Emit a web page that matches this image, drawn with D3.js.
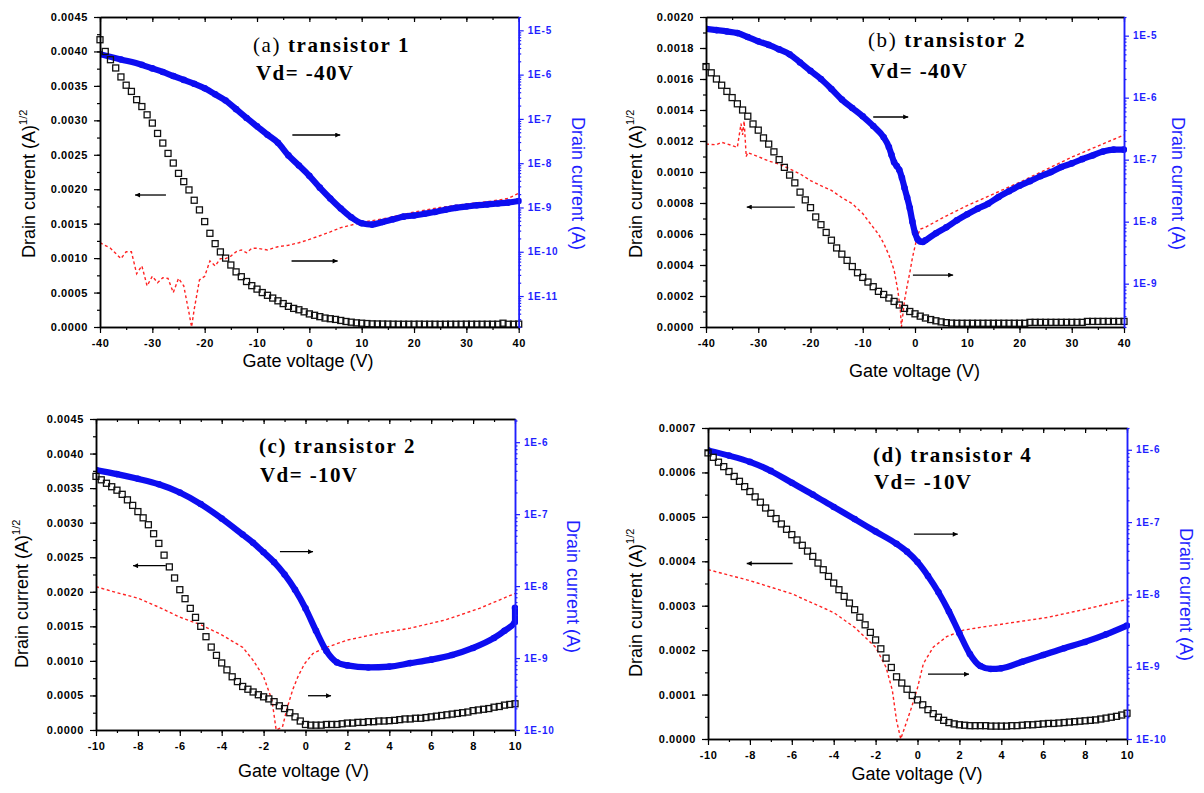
<!DOCTYPE html>
<html><head><meta charset="utf-8">
<script src="https://cdn.jsdelivr.net/npm/d3@7"></script>
<style>body{margin:0;background:#fff}svg{display:block}</style>
</head><body><svg id="c" width="1204" height="793"></svg>
<script>
// ---------- DATA ----------
// Gate-voltage sweeps for the square (sqrt Id) markers
const vgWide = d3.range(-40, 40.001, 1);      // panels a, b
const vgNarrow = d3.range(-10, 10.001, 0.25); // panels c, d

// sqrt(Id) (A^1/2), left axis, black squares
const sqrtIdA = [0.00417,0.00400,0.00388,0.00376,0.00363,0.00351,0.00342,0.00330,0.00320,0.00308,
 0.00296,0.00281,0.00267,0.00252,0.00238,0.00223,0.00211,0.00199,0.00184,0.00170,
 0.00153,0.00136,0.00121,0.00109,0.00100,0.00090,0.00080,0.00073,0.00066,0.00060,
 0.00055,0.00050,0.00046,0.00042,0.00038,0.00034,0.00030,0.00027,0.00025,0.00022,
 0.00019,0.00017,0.00015,0.00013,0.00012,0.00011,0.000095,0.00008,0.00007,0.00006,0.000055,0.00005,0.000045,
 0.000044,0.000043,0.000042,0.000041,0.00004,0.00004,0.00004,0.00004,0.000041,0.00004,
 0.00004,0.00004,0.000039,0.00004,0.00004,0.00004,0.00004,0.000041,0.00004,0.00004,
 0.00004,0.00004,0.00004,0.00004,0.000055,0.00004,0.00004,0.000042];
const sqrtIdB = [0.00168,0.00164,0.00160,0.00156,0.00152,0.00148,0.00144,0.00140,0.00136,0.00131,
 0.00127,0.00122,0.00118,0.00113,0.00108,0.00103,0.00098,0.00093,0.00087,0.00082,
 0.00077,0.00071,0.00066,0.00061,0.00056,0.00051,0.00047,0.00043,0.00039,0.00035,
 0.00032,0.00029,0.00026,0.00023,0.00021,0.000187,0.000165,0.000142,0.00012,0.0001,
 0.000085,0.00007,0.000058,0.000048,0.00004,0.000033,0.000028,0.000025,0.000024,0.000024,
 0.000024,0.000024,0.000024,0.000024,0.000024,0.000024,0.000024,0.000024,0.000024,0.000024,
 0.000024,0.000024,0.00003,0.00003,0.00003,0.00003,0.00003,0.00003,0.00003,0.00003,
 0.00003,0.00003,0.00003,0.000036,0.000036,0.000036,0.000036,0.000036,0.000036,0.000036,0.000036];
const sqrtIdC = [0.00367,0.00362,0.00357,0.00352,0.00347,0.00341,0.00333,0.00325,0.00316,0.00307,
 0.00297,0.00284,0.00270,0.00253,0.00236,0.00220,0.00203,0.00190,0.00176,0.00163,
 0.00150,0.00135,0.00120,0.00108,0.00097,0.00087,0.00077,0.00070,0.00063,0.00059,
 0.00055,0.00051,0.00048,0.00045,0.00041,0.00035,0.00031,0.00025,0.00019,0.00013,
 0.00008,0.00007,0.00007,0.00007,0.00008,0.00008,0.00008,0.00009,0.0001,0.0001,
 0.00011,0.00011,0.00012,0.00012,0.00013,0.00013,0.000135,0.00014,0.00015,0.00016,
 0.00016,0.00017,0.00017,0.00018,0.00019,0.0002,0.00021,0.00022,0.00023,0.00024,
 0.00025,0.00026,0.00028,0.00029,0.0003,0.00031,0.00033,0.00034,0.00036,0.00037,0.00038];
const sqrtIdD = [0.000644,0.000634,0.000623,0.000613,0.000602,0.000591,0.00058,0.000568,0.000557,0.000545,
 0.000533,0.00052,0.000508,0.000496,0.000484,0.000472,0.00046,0.000448,0.000436,0.000423,
 0.000411,0.000396,0.000381,0.000366,0.000351,0.000336,0.000321,0.000306,0.000291,0.000274,
 0.000257,0.00024,0.000223,0.000203,0.000182,0.000161,0.00014,0.000126,0.000112,0.000098,
 0.000088,0.000077,0.000066,0.000057,0.000049,0.000042,0.000037,0.000034,0.000032,0.000031,
 0.00003,0.00003,0.00003,0.00003,0.000029,0.000029,0.000029,0.000029,0.00003,0.00003,
 0.000031,0.000032,0.000032,0.000033,0.000034,0.000035,0.000035,0.000036,0.000037,0.000038,
 0.000039,0.00004,0.000041,0.000042,0.000043,0.000045,0.000047,0.000049,0.000051,0.000054,0.000058];

// Drain current (A), right log axis, blue markers: [Vg, Id]
const idLogA = [[-40,2.9e-6],[-36,2.2e-6],[-32,1.66e-6],[-30,1.38e-6],[-28,1.15e-6],[-26,9.3e-7],[-24,7.6e-7],
 [-22,6.2e-7],[-20,4.9e-7],[-18,3.6e-7],[-16,2.6e-7],[-14,1.66e-7],[-12,1.05e-7],[-10,6.8e-8],[-8,4.4e-8],
 [-6,2.9e-8],[-4,1.5e-8],[-2,8.9e-9],[0,5.2e-9],[2,2.8e-9],[4,1.6e-9],[6,9.5e-10],[8,6e-10],[10,4.4e-10],
 [12,4.1e-10],[14,4.7e-10],[16,5.4e-10],[18,6.2e-10],[20,6.6e-10],[22,7.2e-10],[24,7.9e-10],[26,8.9e-10],
 [28,9.8e-10],[30,1.05e-9],[32,1.12e-9],[34,1.17e-9],[36,1.23e-9],[38,1.29e-9],[40,1.4e-9]];
const idLogB = [[-40,1.29e-5],[-38,1.23e-5],[-36,1.17e-5],[-34,1.1e-5],[-32,9.5e-6],[-30,8.1e-6],[-28,7.1e-6],
 [-26,6e-6],[-24,5e-6],[-22,3.7e-6],[-20,2.7e-6],[-18,2e-6],[-16,1.38e-6],[-14,9.3e-7],[-12,6.8e-7],[-10,5e-7],
 [-8,3.5e-7],[-6,2.3e-7],[-5,1.6e-7],[-4.5,1.2e-7],[-4,9.1e-8],[-3.5,7.9e-8],[-3,6.8e-8],[-2.5,5.1e-8],
 [-2,3.5e-8],[-1.5,2.45e-8],[-1,1.66e-8],[-0.5,1e-8],[0,6.6e-9],[0.5,5.2e-9],[1,4.8e-9],[1.5,4.7e-9],
 [2,5e-9],[4,6.5e-9],[6,8.1e-9],[8,1.05e-8],[10,1.32e-8],[12,1.62e-8],[14,1.95e-8],[16,2.5e-8],[18,3.1e-8],
 [20,3.8e-8],[22,4.5e-8],[24,5.4e-8],[26,6.3e-8],[28,7.6e-8],[30,8.7e-8],[32,1.02e-7],[34,1.17e-7],
 [36,1.35e-7],[38,1.45e-7],[40,1.45e-7]];
const idLogC = [[-10,4.1e-7],[-9,3.6e-7],[-8,3.1e-7],[-7,2.6e-7],[-6,2e-7],[-5,1.38e-7],[-4,8.7e-8],[-3,5.2e-8],
 [-2.5,4e-8],[-2,2.95e-8],[-1.5,2.15e-8],[-1,1.45e-8],[-0.5,8.9e-9],[0,4.9e-9],[0.5,2.4e-9],[1,1.25e-9],[1.5,8.7e-10],
 [2,7.9e-10],[3,7.4e-10],[4,7.6e-10],[5,8.5e-10],[6,9.5e-10],[7,1.1e-9],[8,1.38e-9],[9,1.9e-9],[9.5,2.4e-9],
 [10,3.2e-9],[10,5e-9]];
const idLogD = [[-10,9.8e-7],[-9,8.3e-7],[-8,6.8e-7],[-7,5.1e-7],[-6,3.5e-7],[-5,2.4e-7],[-4,1.62e-7],[-3,1.1e-7],
 [-2,7.4e-8],[-1,5e-8],[-0.5,3.9e-8],[0,2.8e-8],[0.5,1.8e-8],[1,1.07e-8],[1.5,5.8e-9],[2,2.9e-9],[2.5,1.5e-9],[3,1.02e-9],
 [3.5,9.3e-10],[4,9.5e-10],[5,1.17e-9],[6,1.45e-9],[7,1.8e-9],[8,2.2e-9],[9,2.8e-9],[10,3.7e-9]];

// Red dashed current (A), right log axis: [Vg, I]
const redA = [[-40,1.6e-10],[-38,1.2e-10],[-36,7e-11],[-35,1.0e-10],[-34,1.0e-10],[-33,3.2e-11],[-32,4.8e-11],
 [-31,1.7e-11],[-30,2.8e-11],[-29,2e-11],[-28,2.6e-11],[-27,2.5e-11],[-26,1.2e-11],[-25,2.5e-11],[-24,1.7e-11],
 [-23,4.2e-12],[-22.5,2e-12],[-22,5e-12],[-21,2.3e-11],[-20,2.8e-11],[-19,6.2e-11],[-18,4.8e-11],[-17,7e-11],
 [-16,7e-11],[-15,8e-11],[-14,1.0e-10],[-13,1.1e-10],[-12,9.5e-11],[-11,1.2e-10],[-10,1.2e-10],[-8,1.1e-10],
 [-6,1.3e-10],[-4,1.4e-10],[-2,1.6e-10],[0,1.9e-10],[2,2.3e-10],[4,2.8e-10],[6,3.5e-10],[8,4e-10],[10,4.6e-10],
 [15,5.8e-10],[20,7.9e-10],[25,1.0e-9],[30,1.2e-9],[35,1.4e-9],[38,1.6e-9],[40,2.1e-9]];
const redB = [[-40,1.78e-7],[-38,1.74e-7],[-37,1.9e-7],[-36,1.8e-7],[-34,1.58e-7],[-33.3,3.8e-7],[-33,2.5e-7],
 [-32.7,4.2e-7],[-32.3,1.12e-7],[-32,1.3e-7],[-30,1.12e-7],[-28,9.5e-8],[-26,8.5e-8],[-24,7.1e-8],[-22,5.9e-8],
 [-20,4.6e-8],[-18,3.8e-8],[-16,3.2e-8],[-14,2.45e-8],[-12,1.95e-8],[-10,1.35e-8],[-8,8.1e-9],[-7,6.3e-9],
 [-6,4.5e-9],[-5,2.9e-9],[-4,1.66e-9],[-3.3,7.9e-10],[-2.8,3.8e-10],[-2.6,2e-10],[-2,5.4e-10],[-1.5,9.3e-10],
 [-1,1.5e-9],[-0.5,2.6e-9],[0,4e-9],[0.5,6e-9],[1,7.6e-9],[2,8.1e-9],[5,1.12e-8],[10,1.82e-8],[20,4.3e-8],
 [30,1.1e-7],[40,2.5e-7]];
const redC = [[-10,9.8e-9],[-9,8.1e-9],[-8,6.8e-9],[-7,5.1e-9],[-6,3.7e-9],[-5,2.9e-9],[-4,2.1e-9],[-3,1.41e-9],
 [-2.5,9.3e-10],[-2,5.5e-10],[-1.6,2.6e-10],[-1.4,1e-10],[-1.1,1.1e-10],[-0.86,2.1e-10],[-0.6,3.7e-10],
 [-0.35,5.6e-10],[-0.05,8.3e-10],[0.35,1.15e-9],[0.83,1.35e-9],[2,1.78e-9],[3.5,2.2e-9],[5,2.6e-9],
 [6.7,3.4e-9],[8.3,4.9e-9],[10,7.9e-9]];
const redD = [[-10,2.2e-8],[-8,1.55e-8],[-6,1.02e-8],[-4,5.6e-9],[-3,3.5e-9],[-2,1.86e-9],[-1.5,9.8e-10],
 [-1.2,4.7e-10],[-1,1.8e-10],[-0.8,1.0e-10],[-0.28,2.75e-10],[0,5.1e-10],[0.28,1.1e-9],[0.75,1.86e-9],
 [1.39,2.6e-9],[2.19,3.2e-9],[3,3.5e-9],[4.6,4.1e-9],[6.2,4.8e-9],[7.75,6e-9],[10,8.5e-9]];

// Tick values / labels
const xTicksWide = [-40,-30,-20,-10,0,10,20,30,40];
const xTicksNarrow = [-10,-8,-6,-4,-2,0,2,4,6,8,10];
const yTicks45 = [0,0.0005,0.0010,0.0015,0.0020,0.0025,0.0030,0.0035,0.0040,0.0045];
const yTicks20 = [0,0.0002,0.0004,0.0006,0.0008,0.0010,0.0012,0.0014,0.0016,0.0018,0.0020];
const yTicks07 = [0,0.0001,0.0002,0.0003,0.0004,0.0005,0.0006,0.0007];
const logTicksA = [1e-11,1e-10,1e-9,1e-8,1e-7,1e-6,1e-5];
const logTicksB = [1e-9,1e-8,1e-7,1e-6,1e-5];
const logTicksCD = [1e-10,1e-9,1e-8,1e-7,1e-6];

// Annotation arrows in data units: [x start, y (left axis), x end]
const arrowsA = [[-27.4,0.001916,-33.3],[-3.25,0.002787,5.9],[-3.4,0.000958,5.4]];
const arrowsB = [[-8.0,0.001355,-1.3],[-23,0.000774,-32.2],[-0.4,0.000335,7.3]];
const arrowsC = [[-6.67,0.002377,-8.23],[-1.22,0.00258,0.36],[0.12,0.000496,1.22]];
const arrowsD = [[-5.96,0.000395,-8.15],[-0.17,0.000461,1.92],[0.50,0.000146,2.46]];

// ---------- LAYOUT ----------
const panels = [
 {id:'a', box:[100,17,518.7,327], xDom:[-40,40], xT:xTicksWide, xMin:5, yMax:0.0045, yT:yTicks45, yMin:0.00025,
  logDom:[2e-12,2e-5], logT:logTicksA, vg:vgWide, sq:sqrtIdA, blue:idLogA, red:redA, arrows:arrowsA,
  tag:'(a)', tagBold:false, name:'transistor 1', vd:'Vd= -40V', tPos:[253,52], vPos:[256,80],
  labL:[35,258], labR:[571.5,117], labX:[308,366.7]},
 {id:'b', box:[706,17,1124,327], xDom:[-40,40], xT:xTicksWide, xMin:5, yMax:0.0020, yT:yTicks20, yMin:0.0001,
  logDom:[2e-10,2e-5], logT:logTicksB, vg:vgWide, sq:sqrtIdB, blue:idLogB, red:redB, arrows:arrowsB,
  tag:'(b)', tagBold:false, name:'transistor 2', vd:'Vd= -40V', tPos:[868,47], vPos:[870,78],
  labL:[642,258], labR:[1171.5,117], labX:[914.5,376.7]},
 {id:'c', box:[96,419,515,730], xDom:[-10,10], xT:xTicksNarrow, xMin:1, yMax:0.0045, yT:yTicks45, yMin:0.00025,
  logDom:[1e-10,2.1e-6], logT:logTicksCD, vg:vgNarrow, sq:sqrtIdC, blue:idLogC, red:redC, arrows:arrowsC,
  tag:'(c)', tagBold:true, name:'transistor 2', vd:'Vd= -10V', tPos:[259,453], vPos:[260,482],
  labL:[28,668], labR:[566.5,520], labX:[303.5,777]},
 {id:'d', box:[708,428,1127,739], xDom:[-10,10], xT:xTicksNarrow, xMin:1, yMax:0.0007, yT:yTicks07, yMin:0.00005,
  logDom:[1e-10,2e-6], logT:logTicksCD, vg:vgNarrow, sq:sqrtIdD, blue:idLogD, red:redD, arrows:arrowsD,
  tag:'(d)', tagBold:true, name:'transistor 4', vd:'Vd= -10V', tPos:[873,462], vPos:[874,489],
  labL:[642,677], labR:[1180,528], labX:[917,780]}
];

const BLUE = '#0d0df0', AXBLUE = '#1f1fff', RED = '#ff2222';
const SANS = "Arial, 'Liberation Sans', Helvetica, sans-serif";
const SERIF = "'Times New Roman', 'Liberation Serif', serif";

const svg = d3.select('#c');
svg.append('rect').attr('width',1204).attr('height',793).attr('fill','#fff');
const defs = svg.append('defs');
defs.append('marker').attr('id','ah').attr('viewBox','0 0 10 10').attr('refX',10).attr('refY',5)
  .attr('markerWidth',7).attr('markerHeight',5).attr('markerUnits','userSpaceOnUse').attr('orient','auto')
  .append('path').attr('d','M0,0L10,5L0,10z').attr('fill','#000');

function styleAxis(g, color, size, ls){
  g.attr('font-family', SANS).attr('font-size', size).attr('font-weight','bold');
  g.selectAll('path.domain').attr('stroke', color).attr('stroke-width',1.5);
  g.selectAll('.tick line').attr('stroke', color).attr('stroke-width',1.2);
  g.selectAll('.tick text').attr('fill', color).attr('letter-spacing', ls);
}
function minorTicks(lo, hi, step){
  const n = Math.round((hi-lo)/step); return d3.range(0,n+1).map(i=>lo+i*step);
}

panels.forEach(p=>{
  const [L,T,R,B] = p.box;
  const x = d3.scaleLinear().domain(p.xDom).range([L,R]);
  const y = d3.scaleLinear().domain([0,p.yMax]).range([B,T]);
  const yl = d3.scaleLog().domain(p.logDom).range([B,T]);
  const g = svg.append('g');
  defs.append('clipPath').attr('id','cl'+p.id).append('rect')
    .attr('x',L).attr('y',T).attr('width',R-L+3).attr('height',B-T);
  const dg = g.append('g').attr('clip-path',`url(#cl${p.id})`);

  // red dashed curve
  dg.append('path').datum(p.red)
    .attr('d', d3.line().x(d=>x(d[0])).y(d=>yl(d[1])))
    .attr('fill','none').attr('stroke',RED).attr('stroke-width',1.4).attr('stroke-dasharray','3,2.6');
  // blue log-current band
  dg.append('path').datum(p.blue)
    .attr('d', d3.line().curve(d3.curveMonotoneX).x(d=>x(d[0])).y(d=>yl(d[1])))
    .attr('fill','none').attr('stroke',BLUE).attr('stroke-width',6.2).attr('stroke-linejoin','round');
  dg.selectAll('circle').data(p.blue).join('circle')
    .attr('cx',d=>x(d[0])).attr('cy',d=>yl(d[1])).attr('r',3.3).attr('fill',BLUE);
  // black squares
  g.append('g').selectAll('rect').data(p.sq.map((v,i)=>[p.vg[i],v])).join('rect')
    .attr('x',d=>x(d[0])-3).attr('y',d=>y(d[1])-3).attr('width',6).attr('height',6)
    .attr('fill','none').attr('stroke','#111').attr('stroke-width',1.3);

  // axes
  const fmtL = d=>d.toFixed(4);
  const xMinor = minorTicks(p.xDom[0],p.xDom[1],p.xMin);
  const yMinor = minorTicks(0,p.yMax,p.yMin);
  styleAxis(g.append('g').attr('transform',`translate(0,${B})`)
    .call(d3.axisBottom(x).tickValues(xMinor).tickFormat('').tickSize(3).tickSizeOuter(0)), '#000', 11, 0.6);
  styleAxis(g.append('g').attr('transform',`translate(0,${B})`)
    .call(d3.axisBottom(x).tickValues(p.xT).tickFormat(d=>String(d)).tickSize(6).tickPadding(6).tickSizeOuter(0)), '#000', 11, 0.6);
  styleAxis(g.append('g').attr('transform',`translate(0,${T})`)
    .call(d3.axisBottom(x).tickValues(xMinor).tickFormat('').tickSize(3).tickSizeOuter(0)), '#000', 11, 0);
  styleAxis(g.append('g').attr('transform',`translate(0,${T})`)
    .call(d3.axisBottom(x).tickValues(p.xT).tickFormat('').tickSize(5).tickSizeOuter(0)), '#000', 11, 0);
  styleAxis(g.append('g').attr('transform',`translate(${L},0)`)
    .call(d3.axisLeft(y).tickValues(yMinor).tickFormat('').tickSize(3).tickSizeOuter(0)), '#000', 11, 0);
  styleAxis(g.append('g').attr('transform',`translate(${L},0)`)
    .call(d3.axisLeft(y).tickValues(p.yT).tickFormat(fmtL).tickSize(6).tickPadding(6).tickSizeOuter(0)), '#000', 11, 0.6);
  const [lo,hi] = p.logDom;
  const logMinor = [];
  for(let e=Math.floor(Math.log10(lo)); e<=Math.ceil(Math.log10(hi)); e++)
    for(let k=2;k<=9;k++){ const v=k*Math.pow(10,e); if(v>=lo && v<=hi) logMinor.push(v); }
  styleAxis(g.append('g').attr('transform',`translate(${R},0)`)
    .call(d3.axisRight(yl).tickValues(logMinor).tickFormat('').tickSize(2.5).tickSizeOuter(0)), AXBLUE, 10, 0);
  styleAxis(g.append('g').attr('transform',`translate(${R},0)`)
    .call(d3.axisRight(yl).tickValues(p.logT).tickFormat(d=>'1E'+Math.round(Math.log10(d))).tickSize(5).tickPadding(4).tickSizeOuter(0)), AXBLUE, 10, 0.8);

  // arrows
  p.arrows.forEach(a=>{
    g.append('line').attr('x1',x(a[0])).attr('x2',x(a[2])).attr('y1',y(a[1])).attr('y2',y(a[1]))
      .attr('stroke','#000').attr('stroke-width',1.3).attr('marker-end','url(#ah)');
  });

  // axis titles
  const tl = g.append('text').attr('transform',`translate(${p.labL[0]},${p.labL[1]}) rotate(-90)`)
    .attr('font-family',SANS).attr('font-size',18).attr('fill','#000');
  tl.append('tspan').text('Drain current (A)');
  tl.append('tspan').attr('dy',-8).attr('font-size',11).text('1/2');
  g.append('text').attr('transform',`translate(${p.labR[0]},${p.labR[1]}) rotate(90)`)
    .attr('font-family',SANS).attr('font-size',18).attr('fill',AXBLUE).text('Drain current (A)');
  g.append('text').attr('x',p.labX[0]).attr('y',p.labX[1]).attr('text-anchor','middle')
    .attr('font-family',SANS).attr('font-size',18).attr('fill','#000').text('Gate voltage (V)');

  // panel titles
  const t1 = g.append('text').attr('x',p.tPos[0]).attr('y',p.tPos[1]).attr('font-family',SERIF)
    .attr('font-size',21).attr('letter-spacing',1.6).attr('fill','#000');
  t1.append('tspan').attr('font-weight',p.tagBold?'bold':'normal').text(p.tag+' ');
  t1.append('tspan').attr('font-weight','bold').text(p.name);
  g.append('text').attr('x',p.vPos[0]).attr('y',p.vPos[1]).attr('font-family',SERIF).attr('font-weight','bold')
    .attr('font-size',21).attr('letter-spacing',1.4).attr('fill','#000').text(p.vd);
});
</script></body></html>
